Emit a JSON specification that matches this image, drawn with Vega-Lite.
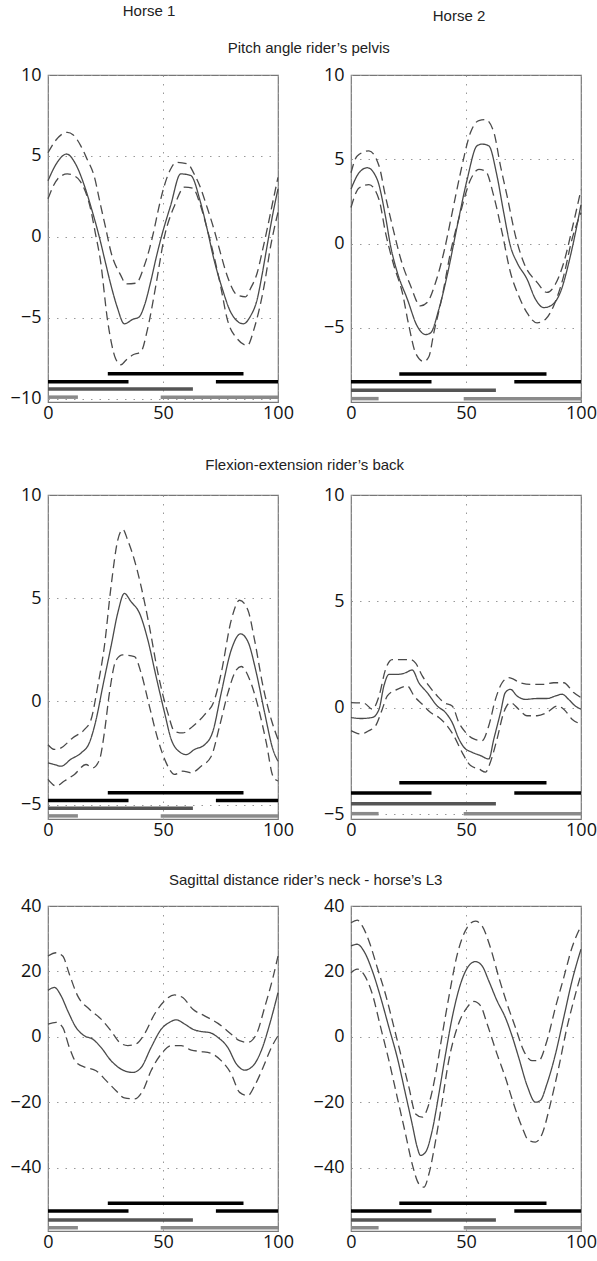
{
  "$schema": "https://vega.github.io/schema/vega-lite/v6.json",
  "padding": {"left": 8, "top": 4, "right": 0, "bottom": 0},
  "background": "white",
  "spacing": 17,
  "config": {
    "view": {"stroke": "#777", "strokeWidth": 1.2},
    "axis": {"labelFont": "Open Sans", "labelFontSize": 18, "labelColor": "#111", "ticks": false, "domain": false, "grid": true, "gridColor": "#999", "gridDash": [1.5, 7], "gridWidth": 1},
    "axisX": {"labelPadding": 2, "labelFlush": false, "labelOverlap": false, "titleFontSize": 1},
    "axisY": {"labelPadding": 7, "titleFontSize": 1, "titlePadding": 0, "minExtent": 38, "maxExtent": 38, "labelOverlap": false},
    "title": {"font": "Liberation Sans", "fontSize": 15, "fontWeight": "normal", "color": "#222", "anchor": "middle"},
    "line": {"clip": true, "interpolate": "monotone"}
  },
  "datasets": {
    "l11": [
      {"x":0,"y":3.47,"s":"mean"},{"x":4,"y":4.6,"s":"mean"},{"x":8.1,"y":5.12,"s":"mean"},{"x":12,"y":4.5,"s":"mean"},{"x":15.8,"y":3.17,"s":"mean"},{"x":19,"y":1.7,"s":"mean"},{"x":22.3,"y":0,"s":"mean"},{"x":25,"y":-1.6,"s":"mean"},{"x":27.4,"y":-3.0,"s":"mean"},{"x":30,"y":-4.3,"s":"mean"},{"x":33.2,"y":-5.37,"s":"mean"},{"x":36.8,"y":-5.1,"s":"mean"},{"x":39.6,"y":-4.95,"s":"mean"},{"x":42,"y":-4.2,"s":"mean"},{"x":44.6,"y":-2.8,"s":"mean"},{"x":47,"y":-1.3,"s":"mean"},{"x":49.3,"y":0,"s":"mean"},{"x":53.3,"y":1.93,"s":"mean"},{"x":57.7,"y":3.89,"s":"mean"},{"x":62,"y":3.8,"s":"mean"},{"x":66.3,"y":2.14,"s":"mean"},{"x":69,"y":0.6,"s":"mean"},{"x":72.1,"y":-1.36,"s":"mean"},{"x":76,"y":-3.3,"s":"mean"},{"x":79.4,"y":-4.64,"s":"mean"},{"x":84.9,"y":-5.37,"s":"mean"},{"x":88,"y":-4.9,"s":"mean"},{"x":91,"y":-3.83,"s":"mean"},{"x":93,"y":-2.4,"s":"mean"},{"x":95.3,"y":-0.53,"s":"mean"},{"x":98,"y":1.6,"s":"mean"},{"x":100,"y":2.96,"s":"mean"},
      {"x":0,"y":5.2,"s":"upper"},{"x":3,"y":5.9,"s":"upper"},{"x":8.4,"y":6.46,"s":"upper"},{"x":11,"y":6.3,"s":"upper"},{"x":14.2,"y":5.64,"s":"upper"},{"x":17,"y":4.8,"s":"upper"},{"x":20,"y":3.79,"s":"upper"},{"x":22.9,"y":1.93,"s":"upper"},{"x":25,"y":0.6,"s":"upper"},{"x":27.4,"y":-0.95,"s":"upper"},{"x":31.7,"y":-2.39,"s":"upper"},{"x":33.9,"y":-2.9,"s":"upper"},{"x":38.3,"y":-2.86,"s":"upper"},{"x":41.9,"y":-1.77,"s":"upper"},{"x":44,"y":-0.8,"s":"upper"},{"x":46.2,"y":0.49,"s":"upper"},{"x":48,"y":1.7,"s":"upper"},{"x":50.6,"y":3.17,"s":"upper"},{"x":53,"y":4.1,"s":"upper"},{"x":55.7,"y":4.6,"s":"upper"},{"x":60.8,"y":4.5,"s":"upper"},{"x":63.5,"y":3.9,"s":"upper"},{"x":66.4,"y":3.0,"s":"upper"},{"x":69,"y":1.9,"s":"upper"},{"x":72.1,"y":0.5,"s":"upper"},{"x":75,"y":-1.0,"s":"upper"},{"x":77.9,"y":-2.4,"s":"upper"},{"x":82.3,"y":-3.6,"s":"upper"},{"x":85.9,"y":-3.7,"s":"upper"},{"x":88,"y":-3.2,"s":"upper"},{"x":91,"y":-2.2,"s":"upper"},{"x":93,"y":-1.0,"s":"upper"},{"x":95.3,"y":0.49,"s":"upper"},{"x":97.5,"y":2.0,"s":"upper"},{"x":100,"y":3.68,"s":"upper"},
      {"x":0,"y":2.35,"s":"lower"},{"x":4.2,"y":3.58,"s":"lower"},{"x":8.4,"y":3.89,"s":"lower"},{"x":11,"y":3.8,"s":"lower"},{"x":14.2,"y":3.4,"s":"lower"},{"x":18.5,"y":1.73,"s":"lower"},{"x":20.5,"y":0.3,"s":"lower"},{"x":22.9,"y":-1.56,"s":"lower"},{"x":25.8,"y":-5.06,"s":"lower"},{"x":27.5,"y":-6.5,"s":"lower"},{"x":29.4,"y":-7.53,"s":"lower"},{"x":31.7,"y":-7.9,"s":"lower"},{"x":34,"y":-7.6,"s":"lower"},{"x":36.8,"y":-7.3,"s":"lower"},{"x":40.4,"y":-7.1,"s":"lower"},{"x":43.3,"y":-5.68,"s":"lower"},{"x":46.9,"y":-3.0,"s":"lower"},{"x":50.6,"y":0,"s":"lower"},{"x":55,"y":1.93,"s":"lower"},{"x":59.4,"y":3.07,"s":"lower"},{"x":63,"y":3.0,"s":"lower"},{"x":66.3,"y":1.93,"s":"lower"},{"x":69,"y":0.6,"s":"lower"},{"x":72.1,"y":-1.15,"s":"lower"},{"x":75,"y":-3.0,"s":"lower"},{"x":77.9,"y":-5.06,"s":"lower"},{"x":82.3,"y":-6.3,"s":"lower"},{"x":86.7,"y":-6.7,"s":"lower"},{"x":89.6,"y":-5.68,"s":"lower"},{"x":94,"y":-3.0,"s":"lower"},{"x":96.9,"y":-0.5,"s":"lower"},{"x":100,"y":1.52,"s":"lower"}
    ],
    "l12": [
      {"x":0,"y":3.23,"s":"mean"},{"x":3.5,"y":4.2,"s":"mean"},{"x":7.1,"y":4.5,"s":"mean"},{"x":11.4,"y":3.8,"s":"mean"},{"x":15,"y":1.6,"s":"mean"},{"x":17.2,"y":-0.14,"s":"mean"},{"x":20.1,"y":-1.7,"s":"mean"},{"x":24.5,"y":-3.3,"s":"mean"},{"x":28.8,"y":-4.9,"s":"mean"},{"x":32.4,"y":-5.4,"s":"mean"},{"x":34.6,"y":-5.3,"s":"mean"},{"x":38.2,"y":-3.9,"s":"mean"},{"x":41.8,"y":-1.9,"s":"mean"},{"x":46.2,"y":1.05,"s":"mean"},{"x":50.5,"y":3.8,"s":"mean"},{"x":54.8,"y":5.8,"s":"mean"},{"x":57,"y":5.9,"s":"mean"},{"x":59.9,"y":5.8,"s":"mean"},{"x":63.5,"y":4.0,"s":"mean"},{"x":66.4,"y":1.84,"s":"mean"},{"x":69.3,"y":-0.14,"s":"mean"},{"x":72.2,"y":-1.13,"s":"mean"},{"x":76.5,"y":-2.1,"s":"mean"},{"x":80.2,"y":-3.3,"s":"mean"},{"x":83.8,"y":-3.8,"s":"mean"},{"x":86.7,"y":-3.7,"s":"mean"},{"x":91,"y":-2.9,"s":"mean"},{"x":95.4,"y":-0.73,"s":"mean"},{"x":100,"y":2.3,"s":"mean"},
      {"x":0,"y":4.2,"s":"upper"},{"x":2.7,"y":5.2,"s":"upper"},{"x":7.8,"y":5.5,"s":"upper"},{"x":12.2,"y":4.6,"s":"upper"},{"x":15,"y":2.8,"s":"upper"},{"x":18.7,"y":0.65,"s":"upper"},{"x":21.6,"y":-0.9,"s":"upper"},{"x":25.9,"y":-2.5,"s":"upper"},{"x":30.2,"y":-3.7,"s":"upper"},{"x":33.1,"y":-3.5,"s":"upper"},{"x":36.8,"y":-2.3,"s":"upper"},{"x":40.4,"y":-0.5,"s":"upper"},{"x":44,"y":1.84,"s":"upper"},{"x":47.6,"y":4.2,"s":"upper"},{"x":52,"y":6.6,"s":"upper"},{"x":55.6,"y":7.3,"s":"upper"},{"x":58.5,"y":7.35,"s":"upper"},{"x":62.1,"y":6.6,"s":"upper"},{"x":65,"y":4.6,"s":"upper"},{"x":67.9,"y":2.8,"s":"upper"},{"x":71.5,"y":0.46,"s":"upper"},{"x":75.1,"y":-1.13,"s":"upper"},{"x":80.9,"y":-2.3,"s":"upper"},{"x":85.2,"y":-2.9,"s":"upper"},{"x":88.9,"y":-2.4,"s":"upper"},{"x":92.5,"y":-1.13,"s":"upper"},{"x":96.1,"y":0.85,"s":"upper"},{"x":100,"y":3.2,"s":"upper"},
      {"x":0,"y":2.14,"s":"lower"},{"x":3.5,"y":3.3,"s":"lower"},{"x":7.8,"y":3.5,"s":"lower"},{"x":12.2,"y":2.6,"s":"lower"},{"x":15,"y":0.65,"s":"lower"},{"x":18.7,"y":-1.33,"s":"lower"},{"x":22.3,"y":-2.9,"s":"lower"},{"x":25.2,"y":-4.9,"s":"lower"},{"x":28.1,"y":-6.5,"s":"lower"},{"x":31.7,"y":-7.0,"s":"lower"},{"x":33.9,"y":-6.7,"s":"lower"},{"x":36,"y":-5.3,"s":"lower"},{"x":39.7,"y":-3.1,"s":"lower"},{"x":43.3,"y":-0.5,"s":"lower"},{"x":47.6,"y":1.84,"s":"lower"},{"x":52,"y":3.8,"s":"lower"},{"x":55.6,"y":4.4,"s":"lower"},{"x":58.5,"y":4.3,"s":"lower"},{"x":62.1,"y":2.8,"s":"lower"},{"x":65.7,"y":0.65,"s":"lower"},{"x":69.3,"y":-1.7,"s":"lower"},{"x":72.9,"y":-3.1,"s":"lower"},{"x":76.5,"y":-4.1,"s":"lower"},{"x":80.9,"y":-4.7,"s":"lower"},{"x":84.5,"y":-4.5,"s":"lower"},{"x":88.1,"y":-3.7,"s":"lower"},{"x":92.5,"y":-1.9,"s":"lower"},{"x":96.1,"y":0.26,"s":"lower"},{"x":100,"y":1.84,"s":"lower"}
    ],
    "l21": [
      {"x":0,"y":-2.98,"s":"mean"},{"x":2.8,"y":-3.06,"s":"mean"},{"x":5.7,"y":-3.14,"s":"mean"},{"x":10,"y":-2.8,"s":"mean"},{"x":14.4,"y":-2.5,"s":"mean"},{"x":18,"y":-2.0,"s":"mean"},{"x":20.9,"y":-0.89,"s":"mean"},{"x":23.8,"y":0.72,"s":"mean"},{"x":27.4,"y":2.66,"s":"mean"},{"x":30.3,"y":4.27,"s":"mean"},{"x":33.2,"y":5.23,"s":"mean"},{"x":36.1,"y":4.83,"s":"mean"},{"x":39.8,"y":4.27,"s":"mean"},{"x":43.4,"y":2.98,"s":"mean"},{"x":47,"y":1.2,"s":"mean"},{"x":50.7,"y":-0.56,"s":"mean"},{"x":53.6,"y":-1.85,"s":"mean"},{"x":57.9,"y":-2.5,"s":"mean"},{"x":60.1,"y":-2.58,"s":"mean"},{"x":63.7,"y":-2.33,"s":"mean"},{"x":68.1,"y":-2.1,"s":"mean"},{"x":71.7,"y":-1.45,"s":"mean"},{"x":75.3,"y":0.4,"s":"mean"},{"x":79.7,"y":2.5,"s":"mean"},{"x":83.7,"y":3.27,"s":"mean"},{"x":86.9,"y":2.9,"s":"mean"},{"x":90.6,"y":1.37,"s":"mean"},{"x":94.2,"y":-0.56,"s":"mean"},{"x":97.8,"y":-2.33,"s":"mean"},{"x":100,"y":-2.9,"s":"mean"},
      {"x":0,"y":-2.1,"s":"upper"},{"x":2.8,"y":-2.33,"s":"upper"},{"x":5.7,"y":-2.25,"s":"upper"},{"x":10.7,"y":-1.77,"s":"upper"},{"x":15.8,"y":-1.37,"s":"upper"},{"x":18.7,"y":-0.89,"s":"upper"},{"x":21.6,"y":0.72,"s":"upper"},{"x":24.5,"y":2.66,"s":"upper"},{"x":27.4,"y":5.56,"s":"upper"},{"x":30.3,"y":7.8,"s":"upper"},{"x":32.5,"y":8.33,"s":"upper"},{"x":34.7,"y":7.8,"s":"upper"},{"x":37.6,"y":6.84,"s":"upper"},{"x":40.5,"y":5.56,"s":"upper"},{"x":44.1,"y":3.62,"s":"upper"},{"x":47.8,"y":1.37,"s":"upper"},{"x":52.1,"y":-0.56,"s":"upper"},{"x":55,"y":-1.45,"s":"upper"},{"x":58.6,"y":-1.53,"s":"upper"},{"x":63,"y":-1.2,"s":"upper"},{"x":68.1,"y":-0.64,"s":"upper"},{"x":72.4,"y":0.08,"s":"upper"},{"x":75.3,"y":1.37,"s":"upper"},{"x":79.7,"y":3.95,"s":"upper"},{"x":83.3,"y":4.9,"s":"upper"},{"x":86.9,"y":4.43,"s":"upper"},{"x":89.8,"y":2.98,"s":"upper"},{"x":93.5,"y":0.72,"s":"upper"},{"x":97.1,"y":-0.89,"s":"upper"},{"x":100,"y":-1.85,"s":"upper"},
      {"x":0,"y":-3.78,"s":"lower"},{"x":3.5,"y":-4.1,"s":"lower"},{"x":7.1,"y":-3.86,"s":"lower"},{"x":11.5,"y":-3.54,"s":"lower"},{"x":16.5,"y":-3.06,"s":"lower"},{"x":19.4,"y":-3.22,"s":"lower"},{"x":22.4,"y":-2.82,"s":"lower"},{"x":24.5,"y":-1.53,"s":"lower"},{"x":26.7,"y":0.4,"s":"lower"},{"x":29.6,"y":2.0,"s":"lower"},{"x":32.5,"y":2.25,"s":"lower"},{"x":37.6,"y":2.17,"s":"lower"},{"x":40.5,"y":1.37,"s":"lower"},{"x":44.1,"y":-0.24,"s":"lower"},{"x":47.8,"y":-1.85,"s":"lower"},{"x":51.4,"y":-2.98,"s":"lower"},{"x":55,"y":-3.54,"s":"lower"},{"x":58.6,"y":-3.38,"s":"lower"},{"x":62.3,"y":-3.46,"s":"lower"},{"x":66.6,"y":-3.14,"s":"lower"},{"x":71,"y":-2.66,"s":"lower"},{"x":74.6,"y":-1.2,"s":"lower"},{"x":78.2,"y":0.4,"s":"lower"},{"x":81.9,"y":1.53,"s":"lower"},{"x":84,"y":1.69,"s":"lower"},{"x":87.7,"y":1.05,"s":"lower"},{"x":91.3,"y":-0.24,"s":"lower"},{"x":94.9,"y":-2.0,"s":"lower"},{"x":97.8,"y":-3.62,"s":"lower"},{"x":100,"y":-3.86,"s":"lower"}
    ],
    "l22": [
      {"x":0,"y":-0.45,"s":"mean"},{"x":4.2,"y":-0.5,"s":"mean"},{"x":9.3,"y":-0.45,"s":"mean"},{"x":12.2,"y":-0.06,"s":"mean"},{"x":14.3,"y":1.03,"s":"mean"},{"x":16.5,"y":1.57,"s":"mean"},{"x":20.1,"y":1.57,"s":"mean"},{"x":23.7,"y":1.65,"s":"mean"},{"x":26.6,"y":1.78,"s":"mean"},{"x":29.5,"y":1.18,"s":"mean"},{"x":33.1,"y":0.72,"s":"mean"},{"x":37.5,"y":0.09,"s":"mean"},{"x":41.1,"y":-0.22,"s":"mean"},{"x":44,"y":-0.69,"s":"mean"},{"x":46.9,"y":-1.46,"s":"mean"},{"x":49.1,"y":-1.85,"s":"mean"},{"x":52.7,"y":-2.09,"s":"mean"},{"x":56.3,"y":-2.24,"s":"mean"},{"x":59.9,"y":-2.4,"s":"mean"},{"x":62.1,"y":-1.46,"s":"mean"},{"x":65,"y":-0.22,"s":"mean"},{"x":67.1,"y":0.72,"s":"mean"},{"x":69.3,"y":0.87,"s":"mean"},{"x":72.2,"y":0.56,"s":"mean"},{"x":75.8,"y":0.4,"s":"mean"},{"x":80.9,"y":0.44,"s":"mean"},{"x":85.2,"y":0.44,"s":"mean"},{"x":88.9,"y":0.56,"s":"mean"},{"x":91.8,"y":0.64,"s":"mean"},{"x":94.6,"y":0.4,"s":"mean"},{"x":97.5,"y":0.09,"s":"mean"},{"x":100,"y":-0.06,"s":"mean"},
      {"x":0,"y":0.25,"s":"upper"},{"x":5.6,"y":0.22,"s":"upper"},{"x":9.3,"y":-0.06,"s":"upper"},{"x":12.2,"y":0.56,"s":"upper"},{"x":15,"y":1.8,"s":"upper"},{"x":17.9,"y":2.27,"s":"upper"},{"x":21.6,"y":2.27,"s":"upper"},{"x":25.9,"y":2.27,"s":"upper"},{"x":28.1,"y":2.1,"s":"upper"},{"x":31,"y":1.5,"s":"upper"},{"x":33.9,"y":1.03,"s":"upper"},{"x":37.5,"y":0.56,"s":"upper"},{"x":40.4,"y":0.25,"s":"upper"},{"x":44,"y":0.09,"s":"upper"},{"x":46.9,"y":-0.69,"s":"upper"},{"x":49.8,"y":-1.15,"s":"upper"},{"x":53.4,"y":-1.46,"s":"upper"},{"x":57,"y":-1.54,"s":"upper"},{"x":59.9,"y":-0.84,"s":"upper"},{"x":62.8,"y":0.4,"s":"upper"},{"x":65.7,"y":1.18,"s":"upper"},{"x":68.6,"y":1.42,"s":"upper"},{"x":73.7,"y":1.18,"s":"upper"},{"x":78,"y":1.1,"s":"upper"},{"x":83.8,"y":1.1,"s":"upper"},{"x":88.1,"y":1.18,"s":"upper"},{"x":92.5,"y":1.18,"s":"upper"},{"x":96.8,"y":0.72,"s":"upper"},{"x":100,"y":0.48,"s":"upper"},
      {"x":0,"y":-1.07,"s":"lower"},{"x":4.2,"y":-1.23,"s":"lower"},{"x":7.8,"y":-1.07,"s":"lower"},{"x":10.7,"y":-0.84,"s":"lower"},{"x":13.6,"y":-0.06,"s":"lower"},{"x":15.8,"y":0.56,"s":"lower"},{"x":20.1,"y":0.87,"s":"lower"},{"x":24.5,"y":1.03,"s":"lower"},{"x":27.4,"y":0.56,"s":"lower"},{"x":31,"y":0.17,"s":"lower"},{"x":34.6,"y":-0.22,"s":"lower"},{"x":38.2,"y":-0.45,"s":"lower"},{"x":41.8,"y":-0.84,"s":"lower"},{"x":44.7,"y":-1.31,"s":"lower"},{"x":48.3,"y":-2.09,"s":"lower"},{"x":52,"y":-2.71,"s":"lower"},{"x":55.6,"y":-2.87,"s":"lower"},{"x":58.5,"y":-3.02,"s":"lower"},{"x":60.6,"y":-2.55,"s":"lower"},{"x":63.5,"y":-1.46,"s":"lower"},{"x":66.4,"y":-0.22,"s":"lower"},{"x":69.3,"y":0.25,"s":"lower"},{"x":72.9,"y":-0.06,"s":"lower"},{"x":76.5,"y":-0.37,"s":"lower"},{"x":80.9,"y":-0.37,"s":"lower"},{"x":85.2,"y":-0.22,"s":"lower"},{"x":89.6,"y":0.09,"s":"lower"},{"x":92.5,"y":-0.06,"s":"lower"},{"x":96.1,"y":-0.53,"s":"lower"},{"x":100,"y":-0.76,"s":"lower"}
    ],
    "l31": [
      {"x":0,"y":14.2,"s":"mean"},{"x":2.8,"y":15.1,"s":"mean"},{"x":5.7,"y":12.5,"s":"mean"},{"x":8.6,"y":7.9,"s":"mean"},{"x":12.2,"y":2.85,"s":"mean"},{"x":15.8,"y":0.3,"s":"mean"},{"x":19.4,"y":-0.7,"s":"mean"},{"x":23.1,"y":-3.3,"s":"mean"},{"x":27.4,"y":-7.3,"s":"mean"},{"x":31.8,"y":-9.9,"s":"mean"},{"x":36.9,"y":-10.9,"s":"mean"},{"x":40.5,"y":-9.4,"s":"mean"},{"x":44.8,"y":-3.3,"s":"mean"},{"x":49.2,"y":2.3,"s":"mean"},{"x":52.8,"y":4.4,"s":"mean"},{"x":55.7,"y":5.2,"s":"mean"},{"x":59.4,"y":3.9,"s":"mean"},{"x":63,"y":2.3,"s":"mean"},{"x":66.6,"y":1.6,"s":"mean"},{"x":70.2,"y":1.3,"s":"mean"},{"x":73.9,"y":-0.2,"s":"mean"},{"x":78.2,"y":-3.3,"s":"mean"},{"x":81.9,"y":-8.3,"s":"mean"},{"x":85.5,"y":-10.2,"s":"mean"},{"x":89.1,"y":-8.9,"s":"mean"},{"x":92.7,"y":-4.3,"s":"mean"},{"x":96.4,"y":3.9,"s":"mean"},{"x":100,"y":13.5,"s":"mean"},
      {"x":0,"y":24.7,"s":"upper"},{"x":3.5,"y":25.7,"s":"upper"},{"x":6.4,"y":24.7,"s":"upper"},{"x":9.3,"y":19.1,"s":"upper"},{"x":12.9,"y":12.5,"s":"upper"},{"x":18,"y":8.4,"s":"upper"},{"x":23.1,"y":5.4,"s":"upper"},{"x":27.4,"y":1.8,"s":"upper"},{"x":31.1,"y":-1.7,"s":"upper"},{"x":34.7,"y":-2.7,"s":"upper"},{"x":38.3,"y":-2.2,"s":"upper"},{"x":41.9,"y":0.8,"s":"upper"},{"x":46.3,"y":6.9,"s":"upper"},{"x":50.7,"y":11,"s":"upper"},{"x":55,"y":12.8,"s":"upper"},{"x":58.6,"y":12,"s":"upper"},{"x":63,"y":8.4,"s":"upper"},{"x":68.1,"y":6.4,"s":"upper"},{"x":73.9,"y":4.1,"s":"upper"},{"x":79.7,"y":0.8,"s":"upper"},{"x":83.3,"y":-1.2,"s":"upper"},{"x":86.9,"y":-1.7,"s":"upper"},{"x":90.6,"y":0.8,"s":"upper"},{"x":94.2,"y":9.0,"s":"upper"},{"x":97.8,"y":18.1,"s":"upper"},{"x":100,"y":24.7,"s":"upper"},
      {"x":0,"y":3.9,"s":"lower"},{"x":3.5,"y":4.4,"s":"lower"},{"x":6.4,"y":2.85,"s":"lower"},{"x":9.3,"y":-3.3,"s":"lower"},{"x":12.2,"y":-7.8,"s":"lower"},{"x":16.5,"y":-9.4,"s":"lower"},{"x":20.9,"y":-10.4,"s":"lower"},{"x":25.3,"y":-13.4,"s":"lower"},{"x":29.6,"y":-16.5,"s":"lower"},{"x":33.2,"y":-18.7,"s":"lower"},{"x":37.6,"y":-19,"s":"lower"},{"x":41.2,"y":-16.5,"s":"lower"},{"x":44.8,"y":-10.4,"s":"lower"},{"x":49.2,"y":-5.3,"s":"lower"},{"x":53.6,"y":-2.7,"s":"lower"},{"x":57.9,"y":-2.7,"s":"lower"},{"x":62.3,"y":-4.1,"s":"lower"},{"x":66.6,"y":-4.5,"s":"lower"},{"x":71,"y":-5.1,"s":"lower"},{"x":75.3,"y":-7.3,"s":"lower"},{"x":79.7,"y":-11.4,"s":"lower"},{"x":83.3,"y":-17,"s":"lower"},{"x":86.9,"y":-18,"s":"lower"},{"x":89.8,"y":-15,"s":"lower"},{"x":93.5,"y":-9.4,"s":"lower"},{"x":97.1,"y":-3.3,"s":"lower"},{"x":100,"y":0.3,"s":"lower"}
    ],
    "l32": [
      {"x":0,"y":27.8,"s":"mean"},{"x":2.7,"y":28.3,"s":"mean"},{"x":5.6,"y":26.2,"s":"mean"},{"x":9.3,"y":20.1,"s":"mean"},{"x":12.9,"y":12,"s":"mean"},{"x":16.5,"y":2.85,"s":"mean"},{"x":20.1,"y":-6.3,"s":"mean"},{"x":23.7,"y":-17.5,"s":"mean"},{"x":26.6,"y":-26.7,"s":"mean"},{"x":28.8,"y":-33.8,"s":"mean"},{"x":30.2,"y":-36.3,"s":"mean"},{"x":32.4,"y":-35.3,"s":"mean"},{"x":35.3,"y":-28.7,"s":"mean"},{"x":38.2,"y":-17.5,"s":"mean"},{"x":41.1,"y":-5.3,"s":"mean"},{"x":44,"y":5.9,"s":"mean"},{"x":47.6,"y":16.1,"s":"mean"},{"x":51.2,"y":21.7,"s":"mean"},{"x":54.1,"y":23,"s":"mean"},{"x":57,"y":21.7,"s":"mean"},{"x":59.9,"y":17.1,"s":"mean"},{"x":63.5,"y":11,"s":"mean"},{"x":67.1,"y":5.9,"s":"mean"},{"x":70,"y":0.3,"s":"mean"},{"x":72.9,"y":-6.3,"s":"mean"},{"x":76.6,"y":-15,"s":"mean"},{"x":80.2,"y":-20,"s":"mean"},{"x":82.3,"y":-19.5,"s":"mean"},{"x":85.2,"y":-14.4,"s":"mean"},{"x":88.9,"y":-5.3,"s":"mean"},{"x":92.5,"y":5.9,"s":"mean"},{"x":96.1,"y":17.1,"s":"mean"},{"x":100,"y":26.8,"s":"mean"},
      {"x":0,"y":34.9,"s":"upper"},{"x":2.7,"y":35.7,"s":"upper"},{"x":4.9,"y":33.9,"s":"upper"},{"x":7.8,"y":29.3,"s":"upper"},{"x":11.4,"y":21.2,"s":"upper"},{"x":15,"y":13,"s":"upper"},{"x":18.7,"y":2.85,"s":"upper"},{"x":21.6,"y":-5.3,"s":"upper"},{"x":25.2,"y":-15.5,"s":"upper"},{"x":28.1,"y":-23.6,"s":"upper"},{"x":31,"y":-24.6,"s":"upper"},{"x":33.9,"y":-20.5,"s":"upper"},{"x":36.8,"y":-11.4,"s":"upper"},{"x":39.7,"y":0.8,"s":"upper"},{"x":42.5,"y":12,"s":"upper"},{"x":46.2,"y":25.2,"s":"upper"},{"x":50.5,"y":33.4,"s":"upper"},{"x":54.1,"y":35.4,"s":"upper"},{"x":57,"y":33.9,"s":"upper"},{"x":60.6,"y":27.3,"s":"upper"},{"x":64.3,"y":18.1,"s":"upper"},{"x":67.9,"y":10,"s":"upper"},{"x":71.5,"y":2.85,"s":"upper"},{"x":75.1,"y":-4.3,"s":"upper"},{"x":78.7,"y":-7.3,"s":"upper"},{"x":81.6,"y":-7.3,"s":"upper"},{"x":85.2,"y":-1.2,"s":"upper"},{"x":88.9,"y":9.0,"s":"upper"},{"x":92.5,"y":18.1,"s":"upper"},{"x":96.1,"y":27.3,"s":"upper"},{"x":100,"y":33.9,"s":"upper"},
      {"x":0,"y":19.6,"s":"lower"},{"x":2.7,"y":20.7,"s":"lower"},{"x":5.6,"y":19.1,"s":"lower"},{"x":9.3,"y":13,"s":"lower"},{"x":12.9,"y":2.85,"s":"lower"},{"x":16.5,"y":-7.3,"s":"lower"},{"x":20.1,"y":-18.5,"s":"lower"},{"x":23.7,"y":-29.7,"s":"lower"},{"x":26.6,"y":-38.9,"s":"lower"},{"x":29.5,"y":-45,"s":"lower"},{"x":31.7,"y":-46,"s":"lower"},{"x":33.9,"y":-41.9,"s":"lower"},{"x":36.8,"y":-31.7,"s":"lower"},{"x":39.7,"y":-19.5,"s":"lower"},{"x":42.5,"y":-7.3,"s":"lower"},{"x":46.2,"y":2.85,"s":"lower"},{"x":50.5,"y":9,"s":"lower"},{"x":53.4,"y":10.8,"s":"lower"},{"x":56.3,"y":9.5,"s":"lower"},{"x":59.2,"y":3.9,"s":"lower"},{"x":63.5,"y":-5.3,"s":"lower"},{"x":67.1,"y":-12.4,"s":"lower"},{"x":70.7,"y":-20.5,"s":"lower"},{"x":74.4,"y":-27.7,"s":"lower"},{"x":77.2,"y":-31.7,"s":"lower"},{"x":80.2,"y":-32.2,"s":"lower"},{"x":83.1,"y":-29.7,"s":"lower"},{"x":86.7,"y":-20.5,"s":"lower"},{"x":90.3,"y":-9.4,"s":"lower"},{"x":93.9,"y":2.85,"s":"lower"},{"x":96.8,"y":11,"s":"lower"},{"x":100,"y":19.1,"s":"lower"}
    ],
    "b11": [{"x":26,"x2":85,"y":-8.45,"g":"A"},{"x":0,"x2":35,"y":-8.95,"g":"B"},{"x":73,"x2":100,"y":-8.95,"g":"B"},{"x":0,"x2":63,"y":-9.4,"g":"C"},{"x":0,"x2":13,"y":-9.9,"g":"D"},{"x":49,"x2":100,"y":-9.9,"g":"D"}],
    "b12": [{"x":21,"x2":85,"y":-7.74,"g":"A"},{"x":0,"x2":35,"y":-8.2,"g":"B"},{"x":71,"x2":100,"y":-8.2,"g":"B"},{"x":0,"x2":63,"y":-8.7,"g":"C"},{"x":0,"x2":12,"y":-9.2,"g":"D"},{"x":49,"x2":100,"y":-9.2,"g":"D"}],
    "b21": [{"x":26,"x2":85,"y":-4.43,"g":"A"},{"x":0,"x2":35,"y":-4.8,"g":"B"},{"x":73,"x2":100,"y":-4.8,"g":"B"},{"x":0,"x2":63,"y":-5.18,"g":"C"},{"x":0,"x2":13,"y":-5.55,"g":"D"},{"x":49,"x2":100,"y":-5.55,"g":"D"}],
    "b22": [{"x":21,"x2":85,"y":-3.52,"g":"A"},{"x":0,"x2":35,"y":-4.0,"g":"B"},{"x":71,"x2":100,"y":-4.0,"g":"B"},{"x":0,"x2":63,"y":-4.5,"g":"C"},{"x":0,"x2":12,"y":-4.97,"g":"D"},{"x":49,"x2":100,"y":-4.97,"g":"D"}],
    "b31": [{"x":26,"x2":85,"y":-50.9,"g":"A"},{"x":0,"x2":35,"y":-53.3,"g":"B"},{"x":73,"x2":100,"y":-53.3,"g":"B"},{"x":0,"x2":63,"y":-56,"g":"C"},{"x":0,"x2":13,"y":-58.4,"g":"D"},{"x":49,"x2":100,"y":-58.4,"g":"D"}],
    "b32": [{"x":21,"x2":85,"y":-50.9,"g":"A"},{"x":0,"x2":35,"y":-53.3,"g":"B"},{"x":71,"x2":100,"y":-53.3,"g":"B"},{"x":0,"x2":63,"y":-56,"g":"C"},{"x":0,"x2":12,"y":-58.4,"g":"D"},{"x":49,"x2":100,"y":-58.4,"g":"D"}]
  },
  "vconcat": [
    {
      "spacing": 74,
      "hconcat": [
        {"width": 230, "height": 1, "view": {"stroke": null}, "title": {"text": "Horse 1", "dx": -14, "offset": 0}, "data": {"values": []}, "mark": {"type": "rule"}, "encoding": {}},
        {"width": 230, "height": 1, "view": {"stroke": null}, "title": {"text": "Horse 2", "dx": -8, "dy": 5, "offset": 0}, "data": {"values": []}, "mark": {"type": "rule"}, "encoding": {}}
      ]
    },
    {
      "title": {"text": "Pitch angle rider’s pelvis", "anchor": "middle", "dx": 6, "offset": 9},
      "spacing": 16,
      "hconcat": [
        {"width": 230, "height": 327, "layer": [
          {"data": {"name": "l11"}, "mark": {"type": "line", "color": "#4a4a4a", "strokeWidth": 1.3},
           "encoding": {"x": {"field": "x", "type": "quantitative", "scale": {"domain": [0, 100]}, "axis": {"values": [0, 50, 100], "title": " ", "titlePadding": 17}},
             "y": {"field": "y", "type": "quantitative", "scale": {"domain": [-10.2, 10], "nice": false, "zero": false}, "axis": {"values": [-10, -5, 0, 5, 10], "title": " "}},
             "strokeDash": {"field": "s", "type": "nominal", "scale": {"domain": ["mean", "upper", "lower"], "range": [[1, 0], [9, 5], [9, 5]]}, "legend": null}}},
          {"data": {"name": "b11"}, "mark": {"type": "rule"},
           "encoding": {"x": {"field": "x", "type": "quantitative"}, "x2": {"field": "x2"}, "y": {"field": "y", "type": "quantitative"},
             "color": {"field": "g", "type": "nominal", "scale": {"domain": ["A", "B", "C", "D"], "range": ["#000", "#000", "#555", "#8a8a8a"]}, "legend": null},
             "size": {"field": "g", "type": "ordinal", "scale": {"domain": ["A", "B", "C", "D"], "range": [3.5, 3.5, 2.5, 3.5]}, "legend": null}}}
        ]},
        {"width": 230, "height": 327, "layer": [
          {"data": {"name": "l12"}, "mark": {"type": "line", "color": "#4a4a4a", "strokeWidth": 1.3},
           "encoding": {"x": {"field": "x", "type": "quantitative", "scale": {"domain": [0, 100]}, "axis": {"values": [0, 50, 100], "title": " ", "titlePadding": 17}},
             "y": {"field": "y", "type": "quantitative", "scale": {"domain": [-9.4, 10], "nice": false, "zero": false}, "axis": {"values": [-5, 0, 5, 10], "title": " "}},
             "strokeDash": {"field": "s", "type": "nominal", "scale": {"domain": ["mean", "upper", "lower"], "range": [[1, 0], [9, 5], [9, 5]]}, "legend": null}}},
          {"data": {"name": "b12"}, "mark": {"type": "rule"},
           "encoding": {"x": {"field": "x", "type": "quantitative"}, "x2": {"field": "x2"}, "y": {"field": "y", "type": "quantitative"},
             "color": {"field": "g", "type": "nominal", "scale": {"domain": ["A", "B", "C", "D"], "range": ["#000", "#000", "#555", "#8a8a8a"]}, "legend": null},
             "size": {"field": "g", "type": "ordinal", "scale": {"domain": ["A", "B", "C", "D"], "range": [3.5, 3.5, 2.5, 3.5]}, "legend": null}}}
        ]}
      ]
    },
    {
      "title": {"text": "Flexion-extension rider’s back", "anchor": "middle", "dx": 2, "offset": 12},
      "spacing": 16,
      "hconcat": [
        {"width": 230, "height": 324, "layer": [
          {"data": {"name": "l21"}, "mark": {"type": "line", "color": "#4a4a4a", "strokeWidth": 1.3},
           "encoding": {"x": {"field": "x", "type": "quantitative", "scale": {"domain": [0, 100]}, "axis": {"values": [0, 50, 100], "title": " ", "titlePadding": 15}},
             "y": {"field": "y", "type": "quantitative", "scale": {"domain": [-5.7, 10], "nice": false, "zero": false}, "axis": {"values": [-5, 0, 5, 10], "title": " "}},
             "strokeDash": {"field": "s", "type": "nominal", "scale": {"domain": ["mean", "upper", "lower"], "range": [[1, 0], [9, 5], [9, 5]]}, "legend": null}}},
          {"data": {"name": "b21"}, "mark": {"type": "rule"},
           "encoding": {"x": {"field": "x", "type": "quantitative"}, "x2": {"field": "x2"}, "y": {"field": "y", "type": "quantitative"},
             "color": {"field": "g", "type": "nominal", "scale": {"domain": ["A", "B", "C", "D"], "range": ["#000", "#000", "#555", "#8a8a8a"]}, "legend": null},
             "size": {"field": "g", "type": "ordinal", "scale": {"domain": ["A", "B", "C", "D"], "range": [3.5, 3.5, 2.5, 3.5]}, "legend": null}}}
        ]},
        {"width": 230, "height": 324, "layer": [
          {"data": {"name": "l22"}, "mark": {"type": "line", "color": "#4a4a4a", "strokeWidth": 1.3},
           "encoding": {"x": {"field": "x", "type": "quantitative", "scale": {"domain": [0, 100]}, "axis": {"values": [0, 50, 100], "title": " ", "titlePadding": 15}},
             "y": {"field": "y", "type": "quantitative", "scale": {"domain": [-5.22, 10], "nice": false, "zero": false}, "axis": {"values": [-5, 0, 5, 10], "title": " "}},
             "strokeDash": {"field": "s", "type": "nominal", "scale": {"domain": ["mean", "upper", "lower"], "range": [[1, 0], [9, 5], [9, 5]]}, "legend": null}}},
          {"data": {"name": "b22"}, "mark": {"type": "rule"},
           "encoding": {"x": {"field": "x", "type": "quantitative"}, "x2": {"field": "x2"}, "y": {"field": "y", "type": "quantitative"},
             "color": {"field": "g", "type": "nominal", "scale": {"domain": ["A", "B", "C", "D"], "range": ["#000", "#000", "#555", "#8a8a8a"]}, "legend": null},
             "size": {"field": "g", "type": "ordinal", "scale": {"domain": ["A", "B", "C", "D"], "range": [3.5, 3.5, 2.5, 3.5]}, "legend": null}}}
        ]}
      ]
    },
    {
      "title": {"text": "Sagittal distance rider’s neck - horse’s L3", "anchor": "middle", "dx": 3, "offset": 8},
      "spacing": 16,
      "hconcat": [
        {"width": 230, "height": 325, "layer": [
          {"data": {"name": "l31"}, "mark": {"type": "line", "color": "#4a4a4a", "strokeWidth": 1.3},
           "encoding": {"x": {"field": "x", "type": "quantitative", "scale": {"domain": [0, 100]}, "axis": {"values": [0, 50, 100], "title": null}},
             "y": {"field": "y", "type": "quantitative", "scale": {"domain": [-59.4, 40], "nice": false, "zero": false}, "axis": {"values": [-40, -20, 0, 20, 40], "title": " "}},
             "strokeDash": {"field": "s", "type": "nominal", "scale": {"domain": ["mean", "upper", "lower"], "range": [[1, 0], [9, 5], [9, 5]]}, "legend": null}}},
          {"data": {"name": "b31"}, "mark": {"type": "rule"},
           "encoding": {"x": {"field": "x", "type": "quantitative"}, "x2": {"field": "x2"}, "y": {"field": "y", "type": "quantitative"},
             "color": {"field": "g", "type": "nominal", "scale": {"domain": ["A", "B", "C", "D"], "range": ["#000", "#000", "#555", "#8a8a8a"]}, "legend": null},
             "size": {"field": "g", "type": "ordinal", "scale": {"domain": ["A", "B", "C", "D"], "range": [3.5, 3.5, 2.5, 3.5]}, "legend": null}}}
        ]},
        {"width": 230, "height": 325, "layer": [
          {"data": {"name": "l32"}, "mark": {"type": "line", "color": "#4a4a4a", "strokeWidth": 1.3},
           "encoding": {"x": {"field": "x", "type": "quantitative", "scale": {"domain": [0, 100]}, "axis": {"values": [0, 50, 100], "title": null}},
             "y": {"field": "y", "type": "quantitative", "scale": {"domain": [-59.4, 40], "nice": false, "zero": false}, "axis": {"values": [-40, -20, 0, 20, 40], "title": " "}},
             "strokeDash": {"field": "s", "type": "nominal", "scale": {"domain": ["mean", "upper", "lower"], "range": [[1, 0], [9, 5], [9, 5]]}, "legend": null}}},
          {"data": {"name": "b32"}, "mark": {"type": "rule"},
           "encoding": {"x": {"field": "x", "type": "quantitative"}, "x2": {"field": "x2"}, "y": {"field": "y", "type": "quantitative"},
             "color": {"field": "g", "type": "nominal", "scale": {"domain": ["A", "B", "C", "D"], "range": ["#000", "#000", "#555", "#8a8a8a"]}, "legend": null},
             "size": {"field": "g", "type": "ordinal", "scale": {"domain": ["A", "B", "C", "D"], "range": [3.5, 3.5, 2.5, 3.5]}, "legend": null}}}
        ]}
      ]
    }
  ]
}
